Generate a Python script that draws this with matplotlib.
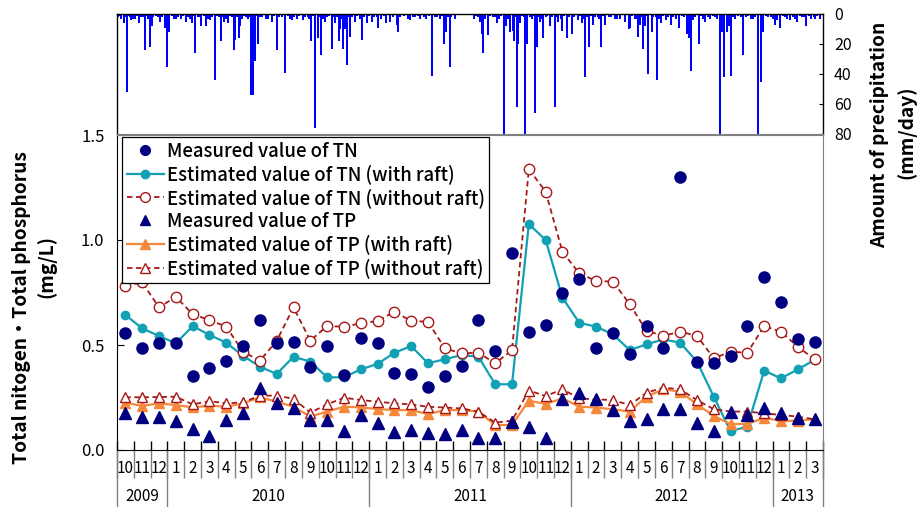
import matplotlib
matplotlib.use('Agg')
import matplotlib.pyplot as plt
from matplotlib.lines import Line2D
import matplotlib.transforms as mtransforms

plt.rcParams['font.family'] = ['Noto Sans CJK JP', 'DejaVu Sans']

# ---------------- data ----------------
month_labels = ['10', '11', '12',
                '1', '2', '3', '4', '5', '6', '7', '8', '9', '10', '11', '12',
                '1', '2', '3', '4', '5', '6', '7', '8', '9', '10', '11', '12',
                '1', '2', '3', '4', '5', '6', '7', '8', '9', '10', '11', '12',
                '1', '2', '3']
year_labels = ['2009', '2010', '2011', '2012', '2013']
year_first_month = [0, 3, 15, 27, 39]   # index of first month of each year
year_end_month = [3, 15, 27, 39, 42]

tn_meas = [0.556, 0.487, 0.511, 0.508, 0.352, 0.389, 0.425, 0.497, 0.619, 0.508,
           0.515, 0.397, 0.495, 0.357, 0.532, 0.511, 0.365, 0.362, 0.302, 0.354,
           0.400, 0.619, 0.473, 0.937, 0.560, 0.595, 0.746, 0.813, 0.487, 0.559,
           0.456, 0.592, 0.484, 1.302, 0.421, 0.416, 0.449, 0.592, 0.822, 0.706,
           0.529, 0.513]
tn_raft = [0.643, 0.579, 0.543, 0.508, 0.590, 0.548, 0.511, 0.448, 0.397, 0.362,
           0.444, 0.421, 0.346, 0.346, 0.384, 0.410, 0.463, 0.495, 0.413, 0.432,
           0.452, 0.444, 0.313, 0.313, 1.076, 1.000, 0.725, 0.606, 0.587, 0.551,
           0.476, 0.503, 0.527, 0.511, 0.421, 0.254, 0.090, 0.111, 0.378, 0.341,
           0.384, 0.429]
tn_noraft = [0.783, 0.798, 0.679, 0.730, 0.646, 0.619, 0.587, 0.468, 0.425, 0.520,
             0.679, 0.521, 0.590, 0.587, 0.603, 0.614, 0.659, 0.614, 0.611, 0.484,
             0.460, 0.463, 0.413, 0.476, 1.338, 1.230, 0.944, 0.841, 0.805, 0.802,
             0.695, 0.567, 0.544, 0.563, 0.544, 0.437, 0.468, 0.463, 0.590, 0.563,
             0.492, 0.432]
tp_meas = [0.178, 0.159, 0.159, 0.140, 0.098, 0.068, 0.143, 0.178, 0.294, 0.222,
           0.198, 0.143, 0.143, 0.092, 0.167, 0.130, 0.087, 0.095, 0.079, 0.076,
           0.095, 0.056, 0.056, 0.135, 0.108, 0.056, 0.241, 0.273, 0.241, 0.190,
           0.140, 0.146, 0.194, 0.194, 0.130, 0.090, 0.183, 0.167, 0.198, 0.175,
           0.151, 0.146]
tp_raft = [0.225, 0.210, 0.222, 0.214, 0.203, 0.211, 0.206, 0.222, 0.251, 0.230,
           0.206, 0.159, 0.183, 0.206, 0.203, 0.195, 0.190, 0.190, 0.171, 0.190,
           0.190, 0.183, 0.119, 0.119, 0.235, 0.219, 0.246, 0.206, 0.202, 0.194,
           0.183, 0.254, 0.289, 0.278, 0.218, 0.162, 0.124, 0.124, 0.154, 0.138,
           0.140, 0.146]
tp_noraft = [0.251, 0.251, 0.252, 0.254, 0.217, 0.233, 0.222, 0.227, 0.259, 0.259,
             0.244, 0.178, 0.217, 0.249, 0.238, 0.230, 0.222, 0.217, 0.206, 0.202,
             0.198, 0.183, 0.130, 0.140, 0.283, 0.257, 0.289, 0.246, 0.241, 0.238,
             0.214, 0.273, 0.297, 0.289, 0.238, 0.194, 0.183, 0.183, 0.175, 0.167,
             0.159, 0.146]

# daily precipitation (day index counted from 2009-10-01, mm/day)
rain_day = [12, 18, 26, 33, 39, 50, 59, 63, 78, 87, 91, 95, 106, 115, 125, 136, 142,
            152, 161, 169, 177, 188, 194, 201, 211, 214, 220, 223, 243, 245, 247, 250,
            256, 270, 281, 290, 305, 317, 326, 337, 351, 358, 363, 369, 377, 389, 395,
            401, 404, 410, 413, 417, 422, 430, 444, 453, 462, 473, 487, 495, 507, 508,
            531, 549, 571, 592, 596, 602, 612, 647, 658, 660, 663, 672, 688, 692, 700,
            705, 712, 716, 719, 724, 726, 730, 739, 743, 757, 760, 766, 772, 783, 792,
            799, 806, 815, 824, 834, 841, 848, 854, 862, 877, 884, 902, 905, 911, 920,
            927, 929, 937, 943, 947, 953, 956, 962, 968, 978, 984, 993, 1003, 1017,
            1032, 1035, 1039, 1043, 1053, 1065, 1074, 1087, 1092, 1095, 1099, 1104,
            1107, 1112, 1133, 1151, 1160, 1165, 1169, 1192, 1195, 1201, 1213, 1219,
            1231, 1248, 1264, 1273]
rain_mm = [6, 52, 4, 3, 6, 24, 22, 8, 5, 9, 35, 12, 3, 3, 5, 6, 26,
           8, 8, 4, 44, 18, 5, 6, 24, 17, 16, 8, 54, 13, 54, 31,
           20, 3, 5, 24, 39, 4, 3, 4, 18, 76, 16, 27, 5, 23, 6,
           18, 10, 23, 10, 34, 15, 5, 17, 6, 5, 9, 6, 5, 7, 12,
           4, 3, 41, 20, 12, 35, 3, 3, 5, 13, 26, 14, 6, 3, 90,
           8, 12, 11, 18, 62, 20, 6, 90, 20, 66, 22, 5, 16, 8, 62,
           5, 11, 16, 13, 4, 6, 42, 22, 7, 22, 7, 3, 3, 3, 5,
           10, 9, 3, 15, 7, 23, 8, 40, 12, 44, 6, 4, 7, 9,
           13, 16, 38, 4, 20, 5, 3, 3, 90, 12, 42, 12,
           8, 41, 27, 3, 90, 45, 12, 7, 4, 9, 3, 4,
           5, 8, 3, 3]
small_rain_day = [2, 5, 8, 15, 21, 23, 29, 36, 44, 47, 53, 56, 66, 70, 74, 82, 100, 103,
                  110, 119, 129, 132, 139, 146, 149, 157, 164, 172, 181, 185, 191, 197,
                  205, 208, 217, 227, 230, 233, 237, 240, 253, 259, 263, 274, 285, 294,
                  298, 310, 313, 321, 330, 341, 345, 348, 355, 366, 373, 381, 384, 392,
                  398, 407, 416, 419, 426, 434, 440, 448, 457, 466, 470, 478, 483, 500,
                  512, 520, 527, 535, 540, 545, 556, 560, 565, 576, 580, 584, 588, 600,
                  605, 650, 654, 667, 676, 680, 684, 696, 708, 722, 734, 736, 747, 751,
                  754, 763, 769, 776, 779, 787, 795, 803, 810, 819, 828, 838, 845, 851,
                  858, 866, 870, 873, 880, 890, 895, 932, 940, 950, 959, 971, 975, 981,
                  988, 997, 1007, 1011, 1022, 1026, 1047, 1057, 1061, 1070, 1079, 1083,
                  1115, 1119, 1125, 1129, 1138, 1142, 1147, 1155, 1175, 1179, 1184, 1188,
                  1205, 1209, 1224, 1228, 1236, 1240, 1244, 1252, 1257, 1261, 1268]
small_rain_mm = [2, 1, 3, 2, 1, 2, 3, 1, 2, 2, 1, 3, 2, 1, 2, 2, 1, 3,
                 2, 1, 2, 3, 1, 2, 2, 1, 3, 2, 1, 2, 2, 3,
                 1, 2, 2, 3, 1, 2, 3, 2, 1, 2, 2, 3, 1, 2,
                 2, 1, 3, 2, 1, 2, 2, 3, 1, 2, 3, 2, 1, 2,
                 2, 3, 1, 2, 2, 1, 3, 2, 1, 2, 2, 3, 1, 2,
                 2, 1, 3, 2, 2, 1, 2, 3, 1, 2, 2, 3, 1, 2,
                 2, 1, 2, 3, 1, 2, 2, 1, 3, 2, 1, 2, 2, 3,
                 1, 2, 3, 2, 1, 2, 2, 3, 1, 2, 2, 1, 3, 2,
                 1, 2, 2, 3, 1, 2, 2, 1, 3, 2, 1, 2, 2, 3,
                 1, 2, 2, 3, 1, 2, 2, 1, 3, 2, 1, 2,
                 2, 3, 1, 2, 2, 1, 3, 2, 1, 2, 2, 3,
                 1, 2, 2, 3, 1, 2, 2, 1, 3, 2, 1]
n_days = 1278

# ---------------- styling ----------------
c_navy = '#000080'
c_cyan = '#12A0B4'
c_red = '#A81818'
c_orange = '#F5883A'
x = list(range(len(month_labels)))

W, H = 918, 507
fig = plt.figure(figsize=(W / 100, H / 100), dpi=100)
L, R = 117, 823
axp = fig.add_axes([L / W, 1 - 134 / H, (R - L) / W, 120 / H])
axm = fig.add_axes([L / W, 1 - 450 / H, (R - L) / W, 315 / H])

# ---- precipitation panel ----
axp.vlines(small_rain_day, 0, small_rain_mm, color='#0000FF', lw=1.3, antialiased=False)
axp.vlines(rain_day, 0, rain_mm, color='#0000FF', lw=1.3, antialiased=False)
axp.set_xlim(0, n_days)
axp.set_ylim(80, 0)
axp.set_xticks([])
axp.yaxis.tick_right()
axp.set_yticks([0, 20, 40, 60, 80])
axp.tick_params(axis='y', direction='in', length=3, labelsize=11.5, pad=8)
for s in ['left', 'top', 'right']:
    axp.spines[s].set_color('black')
    axp.spines[s].set_linewidth(1.0)
axp.spines['bottom'].set_color('#808080')

# ---- main panel ----
axm.plot(x, tn_raft, '-o', color=c_cyan, lw=1.6, ms=6, zorder=3,
         label='Estimated value of TN (with raft)')
axm.plot(x, tn_noraft, '--o', color=c_red, lw=1.3, ms=7.5, mfc='white',
         mec=c_red, mew=1.0, dashes=(3, 2), zorder=3,
         label='Estimated value of TN (without raft)')
axm.plot(x, tp_raft, '-^', color=c_orange, lw=1.6, ms=6.5, zorder=3,
         label='Estimated value of TP (with raft)')
axm.plot(x, tp_noraft, '--^', color=c_red, lw=1.3, ms=7.5, mfc='white',
         mec=c_red, mew=1.0, dashes=(3, 2), zorder=3,
         label='Estimated value of TP (without raft)')
axm.plot(x, tn_meas, 'o', color=c_navy, ms=8, zorder=4, label='Measured value of TN')
axm.plot(x, tp_meas, '^', color=c_navy, ms=8, zorder=4, label='Measured value of TP')

axm.set_xlim(-0.5, len(x) - 0.5)
axm.set_ylim(0, 1.5)
axm.set_yticks([0, 0.5, 1.0, 1.5])
axm.set_yticklabels(['0.0', '0.5', '1.0', '1.5'])
axm.tick_params(axis='y', direction='in', length=5, labelsize=12, pad=9)
axm.set_xticks(x)
axm.set_xticklabels(month_labels)
axm.tick_params(axis='x', length=0, labelsize=11, pad=7)
axm.spines['left'].set_color('black')
axm.spines['bottom'].set_color('black')
axm.spines['right'].set_color('#808080')
axm.spines['top'].set_color('#808080')

trans = mtransforms.blended_transform_factory(axm.transData, axm.transAxes)
seps = [i - 0.5 for i in range(len(x) + 1)]
axm.vlines(seps, 0, 0.03, color='black', lw=1.0, transform=trans, clip_on=False)
axm.vlines(seps, -0.088, 0, color='#808080', lw=1.0, transform=trans, clip_on=False)
ysep = [m - 0.5 for m in year_first_month] + [len(x) - 0.5]
axm.vlines(ysep, -0.19, 0, color='#808080', lw=1.0, transform=trans, clip_on=False)
for lab, a, b in zip(year_labels, year_first_month, year_end_month):
    axm.text((a + b - 1) / 2, -0.148, lab, transform=trans, ha='center', va='center',
             fontsize=11)

handles = [
    Line2D([], [], ls='none', marker='o', color=c_navy, ms=7),
    Line2D([], [], ls='-', marker='o', color=c_cyan, lw=1.6, ms=6),
    Line2D([], [], ls='--', marker='o', color=c_red, lw=1.3, ms=7, mfc='white', dashes=(3, 2)),
    Line2D([], [], ls='none', marker='^', color=c_navy, ms=7),
    Line2D([], [], ls='-', marker='^', color=c_orange, lw=1.6, ms=6.5),
    Line2D([], [], ls='--', marker='^', color=c_red, lw=1.3, ms=7, mfc='white', dashes=(3, 2)),
]
labels = ['Measured value of TN', 'Estimated value of TN (with raft)',
          'Estimated value of TN (without raft)', 'Measured value of TP',
          'Estimated value of TP (with raft)', 'Estimated value of TP (without raft)']
leg = axm.legend(handles, labels, loc='upper left', bbox_to_anchor=(0.007, 0.994),
                 borderaxespad=0, handlelength=2.0, handletextpad=0.15,
                 labelspacing=0.2, borderpad=0.25, fancybox=False, framealpha=1,
                 edgecolor='black',
                 prop={'family': ['Noto Sans CJK JP', 'DejaVu Sans'],
                       'weight': 'medium', 'size': 13.4})
leg.get_frame().set_linewidth(0.9)
leg.set_zorder(10)

fig.text(22 / W, 1 - 308 / H, 'Total nitogen・Total phosphorus', rotation=90,
         ha='center', va='center', fontsize=13.8, fontweight='bold')
fig.text(46 / W, 1 - 266 / H, '(mg/L)', rotation=90,
         ha='center', va='center', fontsize=13.8, fontweight='bold')
fig.text(880 / W, 1 - 135 / H, 'Amount of precipitation', rotation=90,
         ha='center', va='center', fontsize=13.8, fontweight='bold')
fig.text(906 / W, 1 - 132 / H, '(mm/day)', rotation=90,
         ha='center', va='center', fontsize=13.8, fontweight='bold')

fig.savefig('out.png', dpi=100)
